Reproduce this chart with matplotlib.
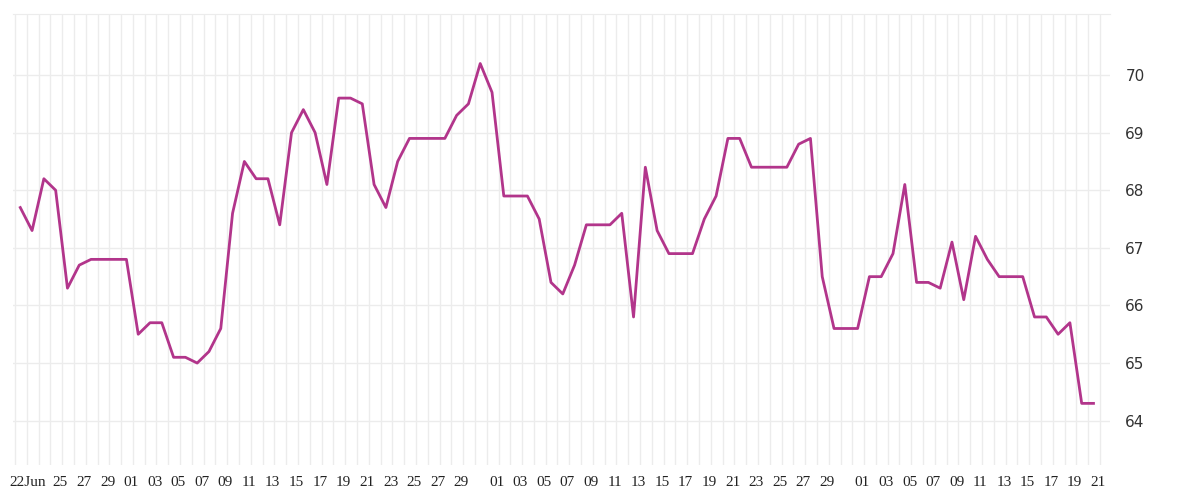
import datetime as dt
import matplotlib.pyplot as plt
from matplotlib.ticker import FixedLocator

start = dt.date(2024, 6, 22)
values = [67.7, 67.3, 68.2, 68.0, 66.3, 66.7, 66.8, 66.8, 66.8, 66.8,
          65.5, 65.7, 65.7, 65.1, 65.1, 65.0, 65.2, 65.6, 67.6, 68.5,
          68.2, 68.2, 67.4, 69.0, 69.4, 69.0, 68.1, 69.6, 69.6, 69.5,
          68.1, 67.7, 68.5, 68.9, 68.9, 68.9, 68.9, 69.3, 69.5, 70.2,
          69.7, 67.9, 67.9, 67.9, 67.5, 66.4, 66.2, 66.7, 67.4, 67.4,
          67.4, 67.6, 65.8, 68.4, 67.3, 66.9, 66.9, 66.9, 67.5, 67.9,
          68.9, 68.9, 68.4, 68.4, 68.4, 68.4, 68.8, 68.9, 66.5, 65.6,
          65.6, 65.6, 66.5, 66.5, 66.9, 68.1, 66.4, 66.4, 66.3, 67.1,
          66.1, 67.2, 66.8, 66.5, 66.5, 66.5, 65.8, 65.8, 65.5, 65.7,
          64.3, 64.3]
dates = [start + dt.timedelta(days=i) for i in range(len(values))]
y_ticks = [64, 65, 66, 67, 68, 69, 70]

# tick labels: every other day, "22Jun" at start, skip the 31st
tick_pos, tick_lab = [0.6], ['22Jun']
for i, d in enumerate(dates):
    if i >= 3 and d.day % 2 == 1 and d.day != 31:
        tick_pos.append(i + 0.4)
        tick_lab.append(f'{d.day:02d}')

fig = plt.figure(figsize=(12, 5), dpi=100)
ax = fig.add_axes([0.011, 0.07, 0.914, 0.902])
x = list(range(len(values)))
ax.plot(x, values, color='#b2358b', lw=2, zorder=3)

ax.set_xlim(-0.6, 92.4)
ax.set_ylim(63.23, 71.06)
ax.set_xticks(tick_pos)
ax.set_xticklabels(tick_lab, family='Liberation Serif', fontsize=11, color='#222222')
ax.xaxis.set_minor_locator(FixedLocator([i - 0.45 for i in range(94)]))
ax.set_yticks(y_ticks)
ax.yaxis.tick_right()
ax.tick_params(axis='y', length=0, pad=11, labelsize=11, labelcolor='#333333')
ax.tick_params(axis='x', which='both', length=0, pad=8)
ax.grid(True, axis='y', color='#ececec', lw=1)
ax.grid(True, axis='x', which='minor', color='#ececec', lw=1)
for s in ['left', 'right', 'bottom']:
    ax.spines[s].set_visible(False)
ax.spines['top'].set_color('#ececec')

fig.savefig('out.png')
